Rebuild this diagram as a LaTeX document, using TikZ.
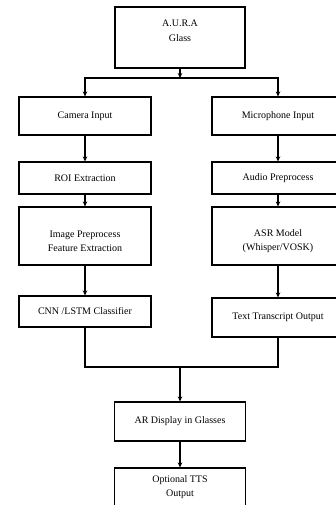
\documentclass[tikz,border=0pt]{standalone}
\usepackage{fontspec}
\setmainfont{Liberation Serif}
\usetikzlibrary{arrows.meta}

\tikzset{
	box/.style={draw, line width=1.1pt, minimum width=132pt, inner sep=0pt, align=center, font=\fontsize{10}{14.5}\selectfont},
	flow/.style={line width=1.1pt, -{Stealth[length=5pt,width=4.5pt]}},
	link/.style={line width=1.1pt}
}

\begin{document}
\begin{tikzpicture}[x=1pt, y=-1pt]
			% frame
			\useasboundingbox (0,0) rectangle (335,505);
	
			% top
			\node[box, minimum width=130pt, minimum height=61pt, text depth=14pt] (aura) at (180,37.5) {A.U.R.A\\Glass};
			\coordinate (split) at (180,78);
	
			% camera branch
			\node[box, minimum height=38pt] (cam) at (85,116) {Camera Input};
			\node[box, minimum height=32pt] (roi) at (85,178) {ROI Extraction};
			\node[box, minimum height=58pt, text height=32pt] (imgpre) at (85,236) {Image Preprocess\\Feature Extraction};
			\node[box, minimum height=31pt] (cnn) at (85,311.5) {CNN /LSTM Classifier};
	
			% microphone branch
			\node[box, minimum height=38pt] (mic) at (278,116) {Microphone Input};
			\node[box, minimum height=32pt] (audio) at (278,178) {Audio Preprocess};
			\node[box, minimum height=58pt, text height=32pt] (asr) at (278,236) {ASR Model\\(Whisper/VOSK)};
			\node[box, minimum height=39pt] (txt) at (278,317.5) {Text Transcript Output};
	
			% output
			\coordinate (merge) at (180,367);
			\node[box, minimum width=131pt, minimum height=39pt] (ar) at (180,421.5) {AR Display in Glasses};
			\node[box, minimum width=131pt, minimum height=50pt, text depth=14pt] (tts) at (180,493) {Optional TTS\\Output};
	
			% arrows
			\draw[flow] (aura) -- (split);
			\draw[flow] (split) -| (cam.north);
			\draw[flow] (split) -| (mic.north);
			\draw[flow] (cam) -- (roi);
			\draw[flow] (roi) -- (imgpre);
			\draw[flow] (imgpre) -- (cnn);
			\draw[flow] (mic) -- (audio);
			\draw[flow] (audio) -- (asr);
			\draw[flow] (asr) -- (txt);
			\draw[link] (cnn.south) |- (merge) -| (txt.south);
			\draw[flow] (merge) -- (ar);
			\draw[flow] (ar) -- (tts);
		\end{tikzpicture}
\end{document}
